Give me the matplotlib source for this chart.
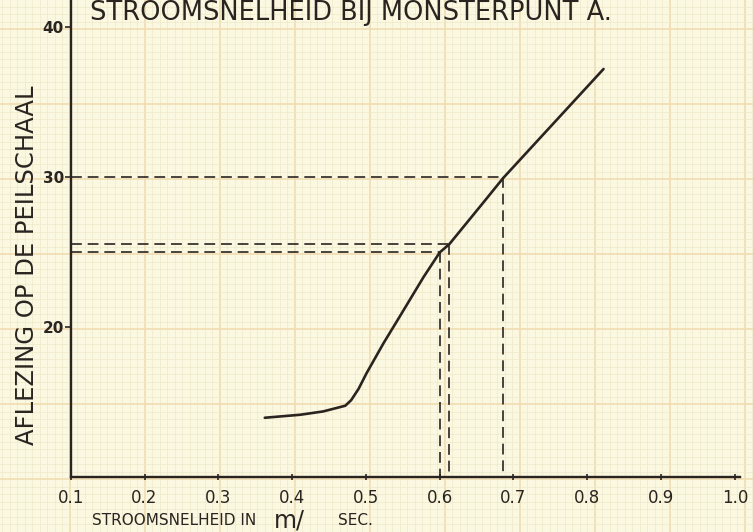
import numpy as np
from matplotlib import pyplot as plt
from matplotlib import font_manager

# curve: stroomsnelheid (m/sec) vs peilschaal
speed = [0.363, 0.411, 0.442, 0.472, 0.480, 0.490, 0.501, 0.524, 0.546,
         0.578, 0.600, 0.613, 0.659, 0.686, 0.822]
level = [13.93, 14.13, 14.35, 14.73, 15.10, 15.85, 16.91, 18.91, 20.69,
         23.30, 24.95, 25.50, 28.27, 29.91, 37.18]

# dashed read-off lines (level -> speed)
read_level = [30, 25.5, 25]
read_speed = [0.686, 0.613, 0.600]

xticks = [0.1, 0.2, 0.3, 0.4, 0.5, 0.6, 0.7, 0.8, 0.9, 1.0]
xlabels = ['0.1', '0.2', '0.3', '0.4', '0.5', '0.6', '0.7', '0.8', '0.9', '1.0']
yticks = [20, 30, 40]
ylabels = ['20', '30', '40']

paper = '#fbf8e1'
minor_c = '#efe8c9'
major_c = '#f1dcb2'
ink = '#2a2420'

names = {f.name for f in font_manager.fontManager.ttflist}
narrow = 'Liberation Sans Narrow' if 'Liberation Sans Narrow' in names else 'DejaVu Sans'

W, H = 753, 532
fig = plt.figure(figsize=(W / 100, H / 100), dpi=100)
fig.patch.set_facecolor(paper)

# graph paper in pixel space
bg = fig.add_axes([0, 0, 1, 1], zorder=0)
bg.set_xlim(0, W)
bg.set_ylim(H, 0)
bg.axis('off')
for v in np.arange(70 - 75, W + 1, 7.5):
    major = abs(((v - 70) / 75) - round((v - 70) / 75)) < 1e-6
    bg.axvline(v, color=major_c if major else minor_c, lw=1.2 if major else 0.5)
for h in np.arange(29 - 75, H + 1, 7.5):
    major = abs(((h - 29) / 75) - round((h - 29) / 75)) < 1e-6
    bg.axhline(h, color=major_c if major else minor_c, lw=1.2 if major else 0.5)

# main axes, mapped to the hand drawn axes
left_px, bottom_px, right_px = 70.7, 476.7, 740
x_per_px = 0.1 / 73.8
y_per_px = 1 / 15
ax = fig.add_axes([left_px / W, (H - bottom_px) / H,
                   (right_px - left_px) / W, bottom_px / H], zorder=1)
ax.set_facecolor('none')
ax.set_xlim(0.1, 0.1 + (right_px - left_px) * x_per_px)
ax.set_ylim(10, 10 + bottom_px * y_per_px)

ax.plot(speed, level, color=ink, lw=1.9, solid_capstyle='round',
        solid_joinstyle='round')

for lv, sp in zip(read_level, read_speed):
    ax.plot([0.1, sp], [lv, lv], color=ink, lw=1.2, dashes=(6.5, 3.5))
    ax.plot([sp, sp], [lv, 10], color=ink, lw=1.2, dashes=(6.5, 3.5))

for s in ['top', 'right']:
    ax.spines[s].set_visible(False)
for s in ['left', 'bottom']:
    ax.spines[s].set_color(ink)
    ax.spines[s].set_linewidth(1.7)

ax.set_xticks(xticks)
ax.set_xticklabels(xlabels, family=narrow, fontsize=12, color=ink)
ax.set_yticks(yticks)
ax.set_yticklabels(ylabels, fontsize=11, fontweight='bold', color=ink)
ax.tick_params(axis='x', direction='inout', length=5, width=1.2, color=ink, pad=6)
ax.tick_params(axis='y', direction='out', length=4, width=1.2, color=ink, pad=1)

# texts
fig.text(90 / W, 1 - 20 / H, 'STROOMSNELHEID BIJ MONSTERPUNT A.',
         ha='left', va='baseline', fontsize=18.5, color=ink)
fig.text(27 / W, 1 - 265 / H, 'AFLEZING OP DE PEILSCHAAL', rotation=90,
         ha='center', va='center', fontsize=17.5, color=ink)
fig.text(92 / W, 1 - 525 / H, 'STROOMSNELHEID IN', ha='left', va='baseline',
         fontsize=11, color=ink)
fig.text(274 / W, 1 - 527 / H, 'm/', ha='left', va='baseline',
         fontsize=17, color=ink)
fig.text(338 / W, 1 - 525 / H, 'SEC.', ha='left', va='baseline',
         fontsize=11, color=ink)

fig.savefig('out.png', dpi=100, facecolor=paper)
